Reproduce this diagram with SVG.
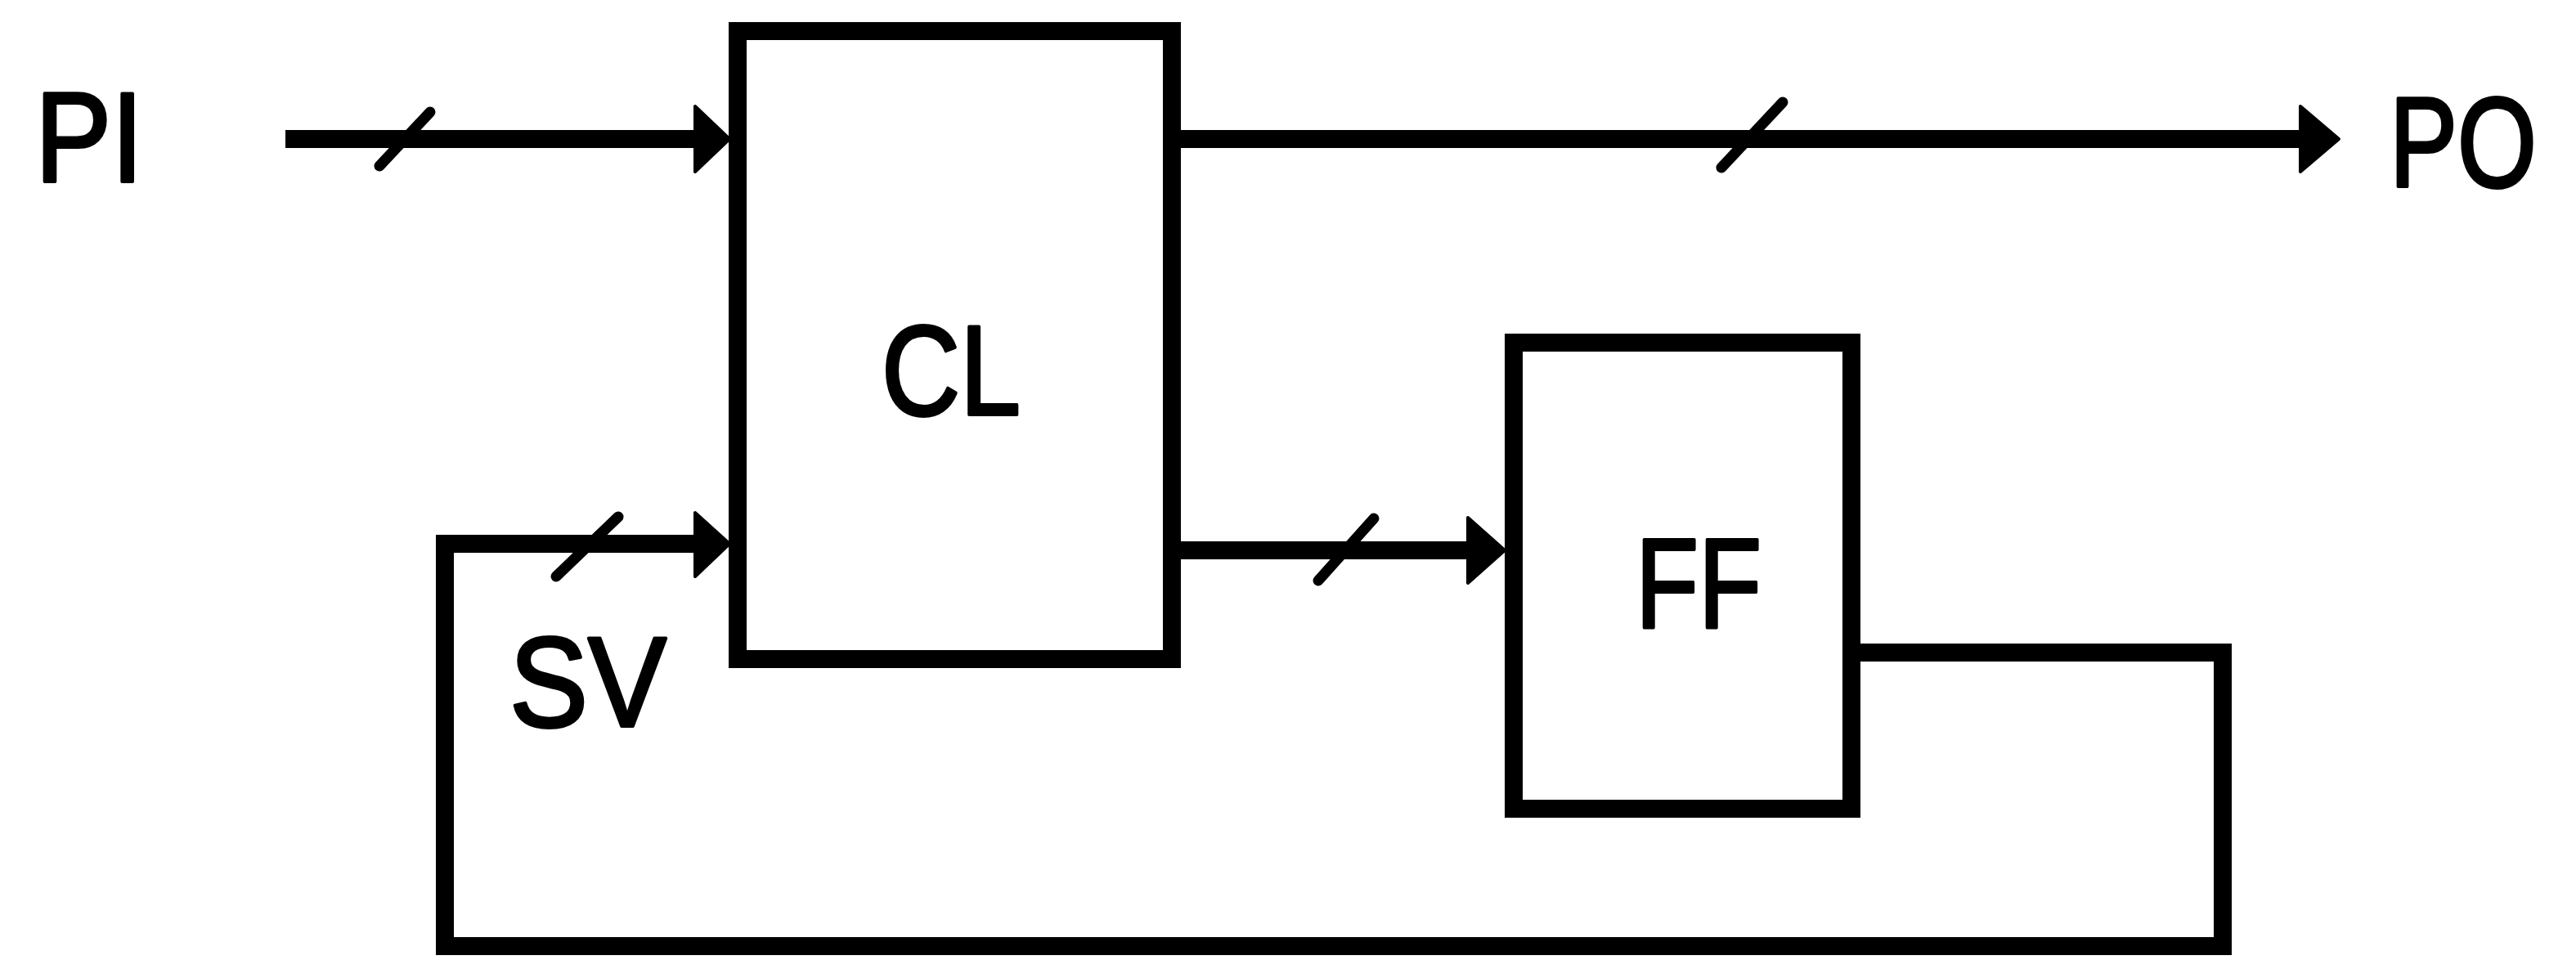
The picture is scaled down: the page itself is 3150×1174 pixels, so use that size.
<svg xmlns="http://www.w3.org/2000/svg" width="3150" height="1174" viewBox="0 0 3150 1174">
  <defs>
    <style>
      .box { fill: none; stroke: #000; stroke-width: 22; stroke-linejoin: miter; }
      .wire { fill: none; stroke: #000; stroke-width: 22; stroke-linejoin: miter; stroke-linecap: square; }
      .slash { fill: none; stroke: #000; stroke-width: 13; stroke-linecap: round; }
      .head { fill: #000; stroke: #000; stroke-width: 4; stroke-linejoin: round; }
      .lbl { font-family: "Liberation Sans", Arial, sans-serif; font-size: 155px; fill: #000; stroke: #000; stroke-width: 4; stroke-linejoin: round; }
    </style>
  </defs>
  <rect width="3150" height="1174" fill="#fff"/>

  <g id="node-CL">
    <rect class="box" x="902" y="38" width="531" height="768"/>
    <text class="lbl" x="1078" y="507" textLength="170" lengthAdjust="spacingAndGlyphs">CL</text>
  </g>

  <g id="node-FF">
    <rect class="box" x="1851" y="419" width="413" height="570"/>
    <text class="lbl" x="2000" y="768" textLength="154" lengthAdjust="spacingAndGlyphs">FF</text>
  </g>

  <g id="label-PI">
    <text class="lbl" x="43" y="222" textLength="132" lengthAdjust="spacingAndGlyphs">PI</text>
  </g>

  <g id="label-PO">
    <text class="lbl" x="2922" y="228" textLength="180" lengthAdjust="spacingAndGlyphs">PO</text>
  </g>

  <g id="label-SV">
    <text class="lbl" x="623" y="888" textLength="192" lengthAdjust="spacingAndGlyphs">SV</text>
  </g>

  <g id="connectors">
    <!-- PI -> CL -->
    <line class="wire" x1="360" y1="170" x2="852" y2="170"/>
    <polygon class="head" points="850,130 892,170 850,210"/>
    <line class="slash" x1="464" y1="203" x2="526" y2="137"/>

    <!-- CL -> PO -->
    <line class="wire" x1="1433" y1="170" x2="2815" y2="170"/>
    <polygon class="head" points="2813,130 2860,170 2813,210"/>
    <line class="slash" x1="2105" y1="205" x2="2180" y2="125"/>

    <!-- CL -> FF -->
    <line class="wire" x1="1433" y1="673" x2="1797" y2="673"/>
    <polygon class="head" points="1795,633 1840,673 1795,713"/>
    <line class="slash" x1="1612" y1="710" x2="1680" y2="634"/>

    <!-- FF -> SV feedback -> CL -->
    <polyline class="wire" points="2264,798 2718,798 2718,1157 544,1157 544,665 852,665"/>
    <polygon class="head" points="850,627 892,665 850,705"/>
    <line class="slash" x1="680" y1="705" x2="756" y2="632"/>
  </g>
</svg>
